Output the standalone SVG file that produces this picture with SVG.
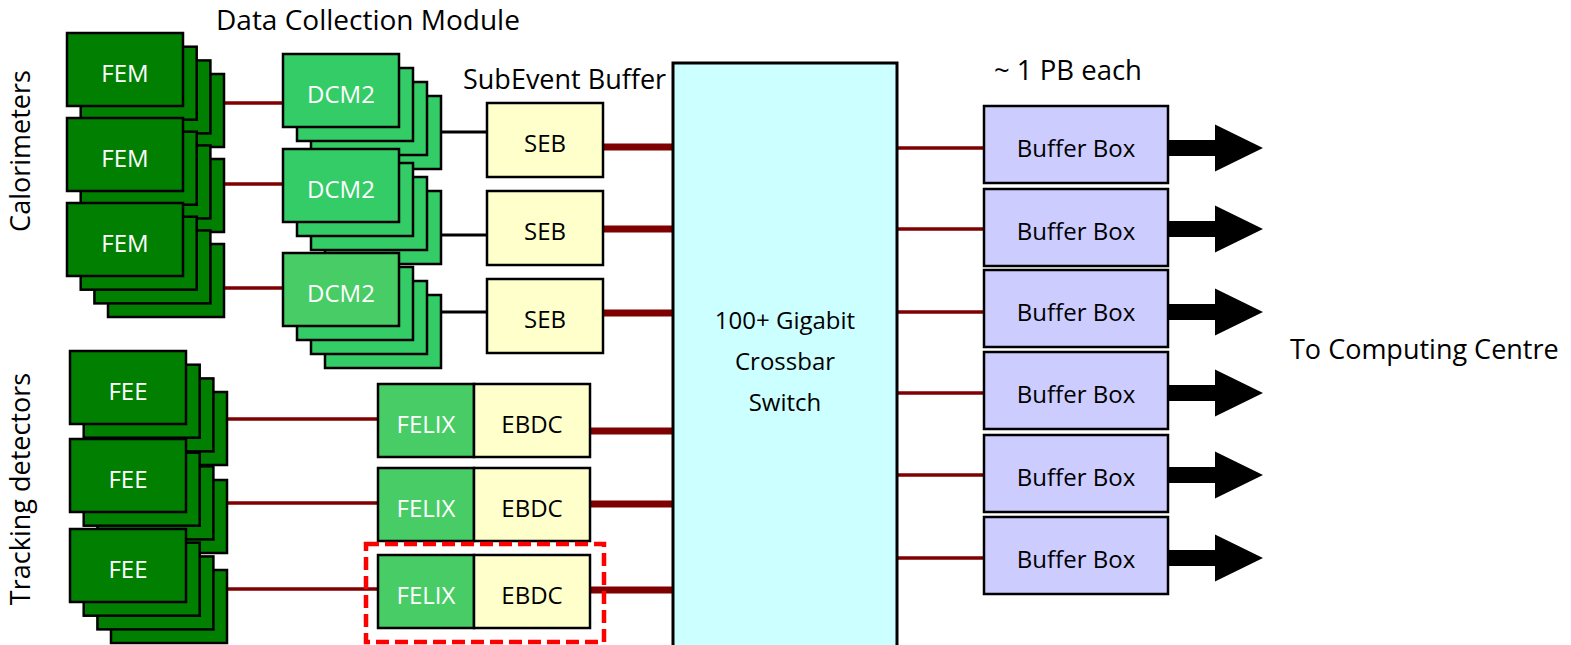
<svg xmlns="http://www.w3.org/2000/svg" xmlns:xlink="http://www.w3.org/1999/xlink" width="1571" height="645" viewBox="0 0 1571 645">
<style>
.fem{fill:#007F00;stroke:#000;stroke-width:2.5}
.dcm{fill:#33CC66;stroke:#000;stroke-width:2.5}
.dcm3{fill:#47CC66;stroke:#000;stroke-width:2.5}
.felix{fill:#47CC66;stroke:#000;stroke-width:2.5}
.seb{fill:#FFFFCC;stroke:#000;stroke-width:2.5}
.bb{fill:#CCCCFF;stroke:#000;stroke-width:2.5}
.sw{fill:#CCFFFF;stroke:#000;stroke-width:3}
.wt{fill:#fff;font-family:"Open Sans","Liberation Sans",sans-serif;font-size:24px;text-anchor:middle}
.bt{fill:#000;font-family:"Open Sans","Liberation Sans",sans-serif;font-size:24px;text-anchor:middle}
.lbl{fill:#000;font-family:"Open Sans","Liberation Sans",sans-serif;font-size:27px}
.rl{stroke:#7F0000;stroke-width:3.5;fill:none}
.tl{stroke:#7F0000;stroke-width:7;fill:none}
.kl{stroke:#000;stroke-width:3;fill:none}
.dash{fill:none;stroke:#FF0000;stroke-width:4.5;stroke-dasharray:13 6}
</style>
<defs>
<path id="arr" d="M1168,-8 H1215 V-23.5 L1263,0 L1215,23.5 V8 H1168 Z" fill="#000"/>
</defs>

<g id="labels">
<text class="lbl" x="216" y="30" style="font-size:28px">Data Collection Module</text>
<text class="lbl" x="463" y="89">SubEvent Buffer</text>
<text class="lbl" x="994" y="80" style="font-size:27.5px">~ 1 PB each</text>
<text class="lbl" x="1290" y="359">To Computing Centre</text>
<text class="lbl" transform="translate(30,151) rotate(-90)" text-anchor="middle">Calorimeters</text>
<text class="lbl" transform="translate(30,489) rotate(-90)" text-anchor="middle">Tracking detectors</text>
</g>

<g id="connectors">
<line class="rl" x1="224" y1="103" x2="284" y2="103"/>
<line class="rl" x1="224" y1="184" x2="284" y2="184"/>
<line class="rl" x1="224" y1="288" x2="284" y2="288"/>
<line class="kl" x1="440" y1="132" x2="488" y2="132"/>
<line class="kl" x1="440" y1="235" x2="488" y2="235"/>
<line class="kl" x1="440" y1="312" x2="488" y2="312"/>
<line class="tl" x1="603" y1="147" x2="674" y2="147"/>
<line class="tl" x1="603" y1="229" x2="674" y2="229"/>
<line class="tl" x1="603" y1="313" x2="674" y2="313"/>
<line class="rl" x1="227" y1="419" x2="378" y2="419"/>
<line class="rl" x1="227" y1="503" x2="378" y2="503"/>
<line class="rl" x1="227" y1="589" x2="378" y2="589"/>
<line class="tl" x1="590" y1="431" x2="674" y2="431"/>
<line class="tl" x1="590" y1="504" x2="674" y2="504"/>
<line class="tl" x1="590" y1="590" x2="674" y2="590"/>
<line class="rl" x1="896" y1="148" x2="985" y2="148"/>
<line class="rl" x1="896" y1="229" x2="987" y2="229"/>
<line class="rl" x1="896" y1="312" x2="985" y2="312"/>
<line class="rl" x1="896" y1="393" x2="987" y2="393"/>
<line class="rl" x1="896" y1="475" x2="987" y2="475"/>
<line class="rl" x1="896" y1="558" x2="987" y2="558"/>
<use href="#arr" xlink:href="#arr" y="148"/>
<use href="#arr" xlink:href="#arr" y="229"/>
<use href="#arr" xlink:href="#arr" y="312"/>
<use href="#arr" xlink:href="#arr" y="393"/>
<use href="#arr" xlink:href="#arr" y="475"/>
<use href="#arr" xlink:href="#arr" y="558"/>
</g>

<g id="fem1" transform="translate(67,33)">
<rect class="fem" x="41" y="41" width="116" height="73"/>
<rect class="fem" x="27.4" y="27.4" width="116" height="73"/>
<rect class="fem" x="13.7" y="13.7" width="116" height="73"/>
<rect class="fem" x="0" y="0" width="116" height="73"/>
<text class="wt" x="58" y="48.5">FEM</text>
</g>
<g id="fem2" transform="translate(67,118)">
<rect class="fem" x="41" y="41" width="116" height="73"/>
<rect class="fem" x="27.4" y="27.4" width="116" height="73"/>
<rect class="fem" x="13.7" y="13.7" width="116" height="73"/>
<rect class="fem" x="0" y="0" width="116" height="73"/>
<text class="wt" x="58" y="48.5">FEM</text>
</g>
<g id="fem3" transform="translate(67,203)">
<rect class="fem" x="41" y="41" width="116" height="73"/>
<rect class="fem" x="27.4" y="27.4" width="116" height="73"/>
<rect class="fem" x="13.7" y="13.7" width="116" height="73"/>
<rect class="fem" x="0" y="0" width="116" height="73"/>
<text class="wt" x="58" y="48.5">FEM</text>
</g>

<g id="dcm1" transform="translate(283,54)">
<rect class="dcm" x="42" y="42" width="116" height="73"/>
<rect class="dcm" x="28" y="28" width="116" height="73"/>
<rect class="dcm" x="14" y="14" width="116" height="73"/>
<rect class="dcm" x="0" y="0" width="116" height="73"/>
<text class="wt" x="58" y="48.5">DCM2</text>
</g>
<g id="dcm2" transform="translate(283,149)">
<rect class="dcm" x="42" y="42" width="116" height="73"/>
<rect class="dcm" x="28" y="28" width="116" height="73"/>
<rect class="dcm" x="14" y="14" width="116" height="73"/>
<rect class="dcm" x="0" y="0" width="116" height="73"/>
<text class="wt" x="58" y="48.5">DCM2</text>
</g>
<g id="dcm3" transform="translate(283,253)">
<rect class="dcm" x="42" y="42" width="116" height="73"/>
<rect class="dcm" x="28" y="28" width="116" height="73"/>
<rect class="dcm" x="14" y="14" width="116" height="73"/>
<rect class="dcm3" x="0" y="0" width="116" height="73"/>
<text class="wt" x="58" y="48.5">DCM2</text>
</g>

<g id="seb1"><rect class="seb" x="487" y="103" width="116" height="74"/><text class="bt" x="545" y="152">SEB</text></g>
<g id="seb2"><rect class="seb" x="487" y="191" width="116" height="74"/><text class="bt" x="545" y="240">SEB</text></g>
<g id="seb3"><rect class="seb" x="487" y="279" width="116" height="74"/><text class="bt" x="545" y="328">SEB</text></g>

<g id="fee1" transform="translate(70,351)">
<rect class="fem" x="41" y="41" width="116" height="73"/>
<rect class="fem" x="27.4" y="27.4" width="116" height="73"/>
<rect class="fem" x="13.7" y="13.7" width="116" height="73"/>
<rect class="fem" x="0" y="0" width="116" height="73"/>
<text class="wt" x="58" y="48.5">FEE</text>
</g>
<g id="fee2" transform="translate(70,439)">
<rect class="fem" x="41" y="41" width="116" height="73"/>
<rect class="fem" x="27.4" y="27.4" width="116" height="73"/>
<rect class="fem" x="13.7" y="13.7" width="116" height="73"/>
<rect class="fem" x="0" y="0" width="116" height="73"/>
<text class="wt" x="58" y="48.5">FEE</text>
</g>
<g id="fee3" transform="translate(70,529)">
<rect class="fem" x="41" y="41" width="116" height="73"/>
<rect class="fem" x="27.4" y="27.4" width="116" height="73"/>
<rect class="fem" x="13.7" y="13.7" width="116" height="73"/>
<rect class="fem" x="0" y="0" width="116" height="73"/>
<text class="wt" x="58" y="48.5">FEE</text>
</g>

<g id="felix1"><rect class="felix" x="378" y="384" width="96" height="73"/><text class="wt" x="426" y="432.5">FELIX</text></g>
<g id="ebdc1"><rect class="seb" x="474" y="384" width="116" height="73"/><text class="bt" x="532" y="432.5">EBDC</text></g>
<g id="felix2"><rect class="felix" x="378" y="468" width="96" height="73"/><text class="wt" x="426" y="516.5">FELIX</text></g>
<g id="ebdc2"><rect class="seb" x="474" y="468" width="116" height="73"/><text class="bt" x="532" y="516.5">EBDC</text></g>
<g id="felix3"><rect class="felix" x="378" y="555" width="96" height="73"/><text class="wt" x="426" y="603.5">FELIX</text></g>
<g id="ebdc3"><rect class="seb" x="474" y="555" width="116" height="73"/><text class="bt" x="532" y="603.5">EBDC</text></g>

<g id="highlight"><rect class="dash" x="366" y="544" width="238" height="98"/></g>

<g id="switch">
<rect class="sw" x="673" y="63" width="224" height="600"/>
<text class="bt" x="785" y="329">100+ Gigabit</text>
<text class="bt" x="785" y="370">Crossbar</text>
<text class="bt" x="785" y="411">Switch</text>
</g>

<g id="bb1"><rect class="bb" x="984" y="106" width="184" height="77"/><text class="bt" x="1076" y="156.5">Buffer Box</text></g>
<g id="bb2"><rect class="bb" x="984" y="189" width="184" height="77"/><text class="bt" x="1076" y="239.5">Buffer Box</text></g>
<g id="bb3"><rect class="bb" x="984" y="270" width="184" height="77"/><text class="bt" x="1076" y="320.5">Buffer Box</text></g>
<g id="bb4"><rect class="bb" x="984" y="352" width="184" height="77"/><text class="bt" x="1076" y="402.5">Buffer Box</text></g>
<g id="bb5"><rect class="bb" x="984" y="435" width="184" height="77"/><text class="bt" x="1076" y="485.5">Buffer Box</text></g>
<g id="bb6"><rect class="bb" x="984" y="517" width="184" height="77"/><text class="bt" x="1076" y="567.5">Buffer Box</text></g>
</svg>
